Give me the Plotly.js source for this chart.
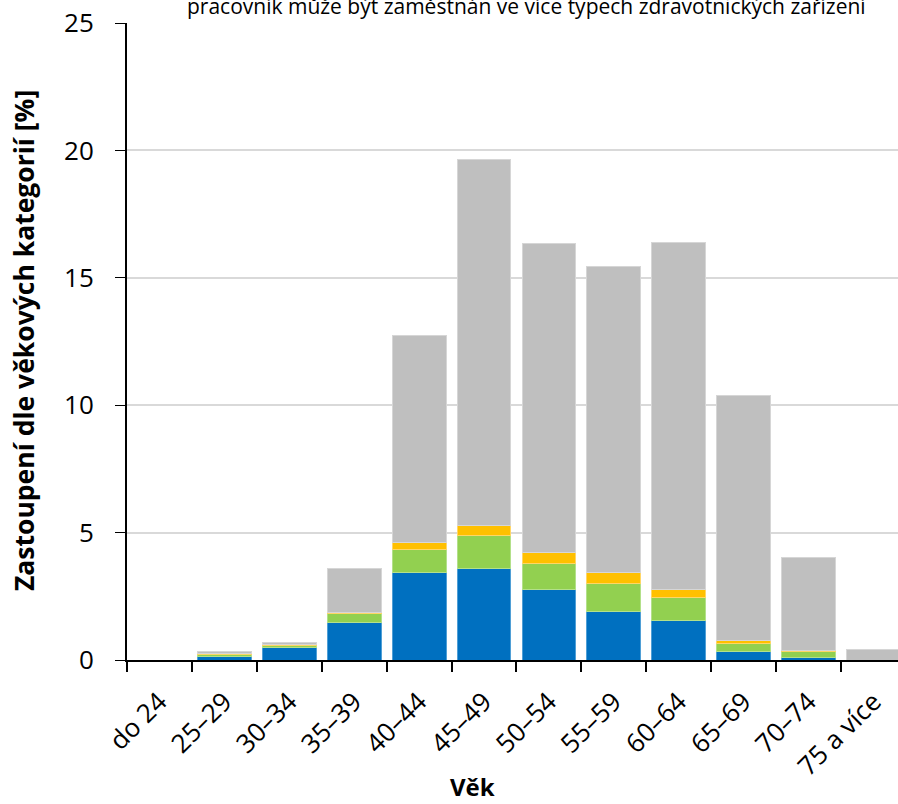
<!DOCTYPE html>
<html>
<head>
<meta charset="utf-8">
<script src="https://cdn.plot.ly/plotly-3.0.1.min.js"></script>
<style>html,body{margin:0;padding:0;background:#fff;}#chart{width:898px;height:804px;}</style>
</head>
<body>
<div id="chart"></div>
<script>
const categories = ["do 24", "25–29", "30–34", "35–39", "40–44", "45–49", "50–54", "55–59", "60–64", "65–69", "70–74", "75 a více"];
const seriesBlue   = [0, 0.15, 0.48, 1.48, 3.43, 3.58, 2.75, 1.92, 1.57, 0.33, 0.09, 0];
const seriesGreen  = [0, 0.05, 0.10, 0.33, 0.91, 1.31, 1.03, 1.08, 0.88, 0.32, 0.25, 0];
const seriesYellow = [0, 0.04, 0.02, 0.07, 0.29, 0.40, 0.45, 0.43, 0.30, 0.12, 0.02, 0];
const seriesGrey   = [0, 0.09, 0.08, 1.72, 8.11, 14.36, 12.10, 12.03, 13.65, 9.60, 3.66, 0.42];
const seriesNames  = ["Skupina 1", "Skupina 2", "Skupina 3", "Skupina 4"];
const yTicks = [0, 5, 10, 15, 20, 25];

const colors = ["#0070C0", "#92D050", "#FFC000", "#BFBFBF"];
const lines = ["#4F9FD6", "#B3E08A", "#FFD666", "#D6D6D6"];
const allSeries = [seriesBlue, seriesGreen, seriesYellow, seriesGrey];

const traces = allSeries.map((vals, i) => ({
  type: "bar",
  x: categories,
  y: vals,
  name: seriesNames[i],
  marker: {color: colors[i], line: {color: lines[i], width: 1}},
  hoverinfo: "x+y+name"
}));

const F = "Open Sans, sans-serif";
const layout = {
  width: 898, height: 804,
  margin: {l: 127, r: 0, t: 23, b: 144, pad: 0},
  barmode: "stack",
  bargap: 0.17,
  showlegend: false,
  paper_bgcolor: "#fff",
  plot_bgcolor: "#fff",
  font: {family: F, color: "#000"},
  xaxis: {
    type: "category",
    range: [-0.5, 11.377],
    tickangle: -45,
    tickfont: {size: 26, family: F, color: "#000"},
    ticks: "outside", ticklen: 10, tickwidth: 2, tickcolor: "#000",
    tickson: "boundaries",
    ticklabelstandoff: 14,
    showline: true, linecolor: "#000", linewidth: 2,
    showgrid: false,
    fixedrange: true
  },
  yaxis: {
    range: [0, 25],
    tickvals: yTicks,
    ticktext: yTicks.map(String),
    tickfont: {size: 26, family: F, color: "#000"},
    ticks: "outside", ticklen: 10, tickwidth: 1, tickcolor: "#000",
    ticklabelstandoff: 16,
    showline: true, linecolor: "#000", linewidth: 2,
    showgrid: true, gridcolor: "#D9D9D9", gridwidth: 2,
    zeroline: false,
    fixedrange: true
  },
  annotations: [
    {
      text: "pracovník může být zaměstnán ve více typech zdravotnických zařízení",
      xref: "paper", yref: "paper",
      x: (526 - 127) / 771, y: 1, xanchor: "center", yanchor: "middle",
      yshift: 17,
      showarrow: false,
      font: {size: 21, family: F, color: "#000"}
    },
    {
      text: "<b>Věk</b>",
      xref: "paper", yref: "paper",
      x: (472 - 127) / 771, y: (660 - 786) / 637, xanchor: "center", yanchor: "middle",
      showarrow: false,
      font: {size: 24, family: F, color: "#000"}
    },
    {
      text: "<b>Zastoupení dle věkových kategorií [%]</b>",
      xref: "paper", yref: "paper",
      x: (24 - 127) / 771, y: (660 - 341) / 637, xanchor: "center", yanchor: "middle",
      textangle: -90,
      showarrow: false,
      font: {size: 26.5, family: F, color: "#000"}
    }
  ]
};

Plotly.newPlot("chart", traces, layout, {displayModeBar: false, staticPlot: true});
</script>
</body>
</html>
